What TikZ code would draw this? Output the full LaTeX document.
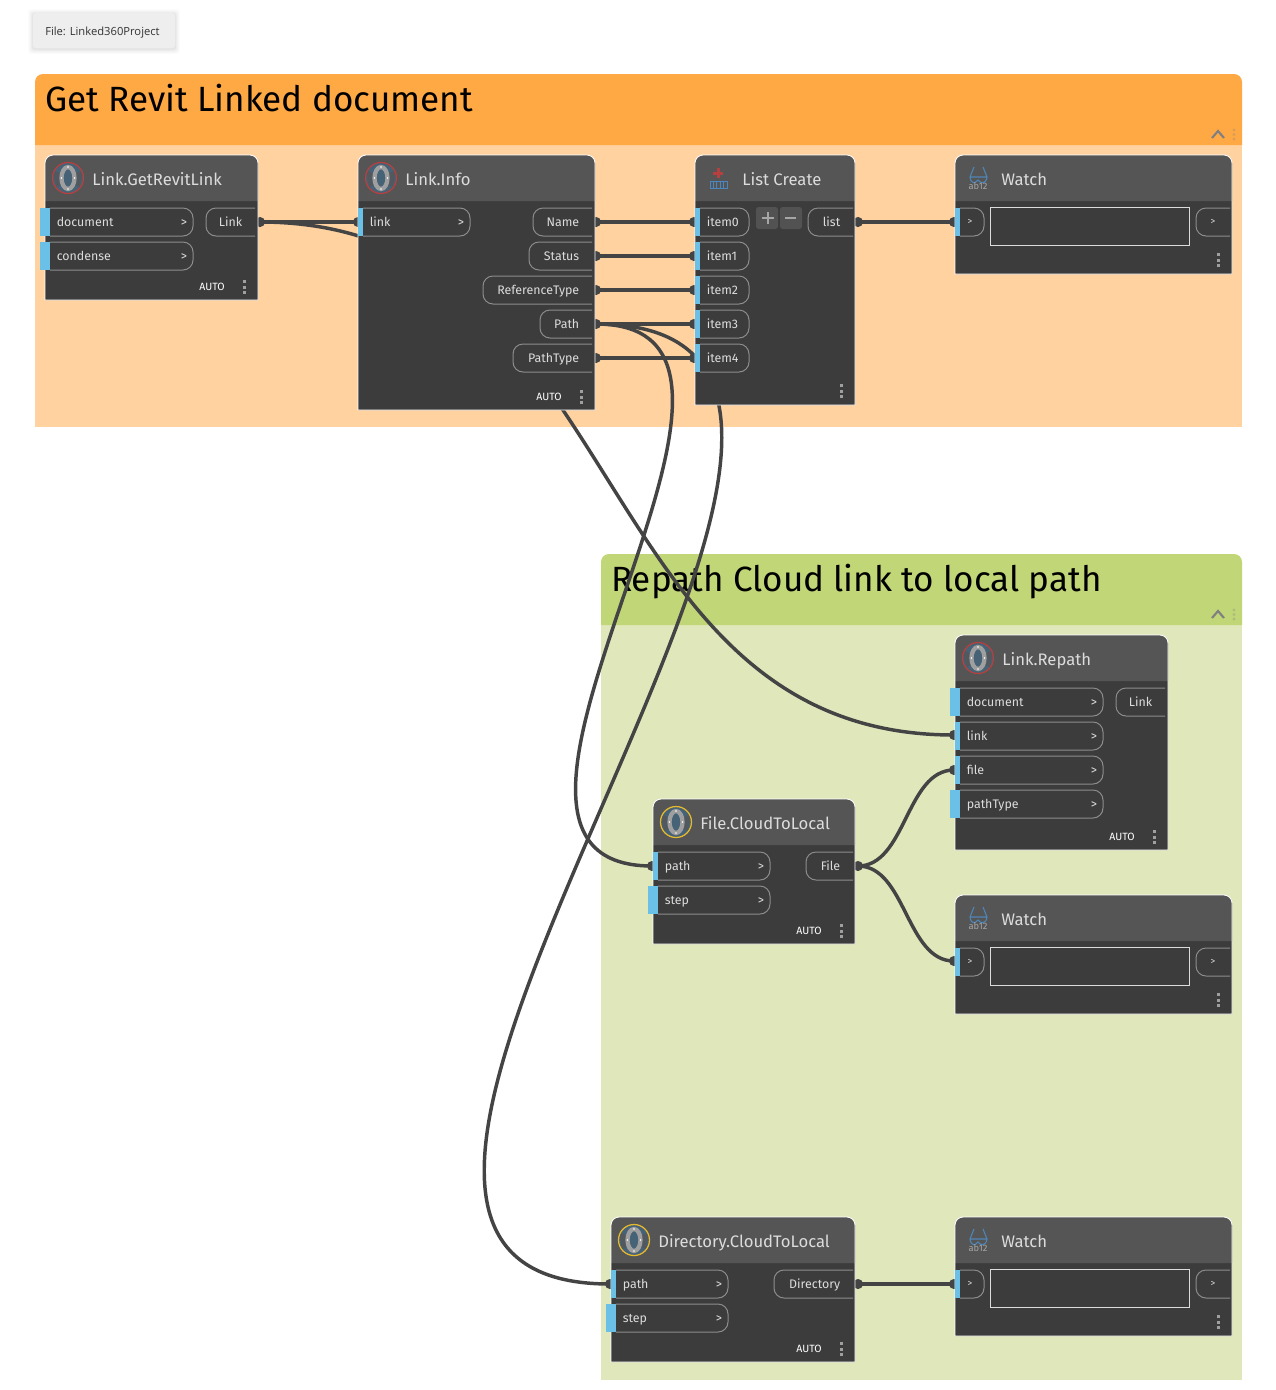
\documentclass[tikz,border=0pt]{standalone}
\usepackage{fontspec}
\setmainfont{Fira Sans}
\newfontfamily\notefont{Open Sans}
\pgfdeclarelayer{groups}
\pgfdeclarelayer{wires}
\pgfsetlayers{groups,wires,main}
\definecolor{nodebody}{HTML}{3C3C3C}
\definecolor{nodehead}{HTML}{555555}
\definecolor{wirec}{HTML}{444444}
\definecolor{portblue}{HTML}{6AC0E7}
\definecolor{pilledge}{HTML}{8C8C8C}
\definecolor{txt}{HTML}{DCDCDC}
\definecolor{orangehead}{HTML}{FFA945}
\definecolor{orangebody}{HTML}{FFD2A0}
\definecolor{greenhead}{HTML}{C1D677}
\definecolor{greenbody}{HTML}{E0E8BB}
\definecolor{iconblue}{HTML}{466276}
\definecolor{iconyellow}{HTML}{E5B82E}
\definecolor{iconred}{HTML}{B5403F}
\definecolor{glassblue}{HTML}{4F86B8}
\definecolor{listblue}{HTML}{4A86C0}
\definecolor{btnfill}{HTML}{525252}
\definecolor{notebg}{HTML}{EEEEEE}
\definecolor{notetext}{HTML}{333333}
\tikzset{
  wire/.style={draw=wirec,line width=2.6pt},
  portdot/.style={circle,fill=wirec,inner sep=0pt,minimum size=7.6pt},
  porttext/.style={text=txt,font=\fontsize{9.3}{11}\selectfont,inner sep=0pt},
  titletext/.style={text=txt,font=\fontsize{12.5}{15}\selectfont,inner sep=0pt,anchor=base west},
  grouptitle/.style={text=black,font=\fontsize{26.3}{30}\selectfont,inner sep=0pt,anchor=base west},
  pill/.style={draw=pilledge,line width=0.75pt,rounded corners=7.5pt},
  autotext/.style={text=white,font=\fontsize{7.9}{9}\selectfont,inner sep=0pt,anchor=east},
}
% id x1 y1 x2 y2 title titlex
\newcommand{\dnode}[7]{
  \fill[nodebody] (#2,#5) -- (#2,#3+10) [rounded corners=6pt] -- (#2,#3) -- (#4,#3) [sharp corners] -- (#4,#5) -- cycle;
  \fill[nodehead] (#2,#3+46) -- (#2,#3+10) [rounded corners=6pt] -- (#2,#3) -- (#4,#3) [sharp corners] -- (#4,#3+46) -- cycle;
  \draw[white,line width=0.65pt] (#2,#5) [rounded corners=6pt] -- (#2,#3) -- (#4,#3) [sharp corners] -- (#4,#5) -- cycle;
  \node[titletext] (#1) at (#7,#3+30) {#6};
}
% id barleft barright pillright y label
\newcommand{\inpill}[6]{
  \fill[portblue] (#2,#5-14) rectangle (#3,#5+14);
  \draw[pill] (#3,#5-14) -- (#4,#5-14) -- (#4,#5+14) -- (#3,#5+14);
  \node[porttext,anchor=base west] (#1) at (#3+6.5,#5+4) {#6};
  \node[porttext,anchor=base] (#1gt) at (#4-9,#5+4) {>};
}
% id pillleft pillright y label
\newcommand{\outpill}[5]{
  \draw[pill] (#3,#4-14) -- (#2,#4-14) -- (#2,#4+14) -- (#3,#4+14);
  \node[porttext,anchor=base east] (#1) at (#3-12.5,#4+4) {#5};
}
\newcommand{\wdot}[3]{\begin{pgfonlayer}{wires}\node[portdot] (#1) at (#2,#3) {};\end{pgfonlayer}}
\newcommand{\kebab}[2]{
  \fill[gray!75] (#1-1.5,#2-7) rectangle (#1+1.5,#2-4);
  \fill[gray!75] (#1-1.5,#2-1.5) rectangle (#1+1.5,#2+1.5);
  \fill[gray!75] (#1-1.5,#2+4) rectangle (#1+1.5,#2+7);
}
% x y ringcolor
\newcommand{\dsicon}[3]{
  \fill[iconblue] (#1,#2) circle[radius=15];
  \fill[nodehead!70!iconblue] (#1-15,#2-8) -- (#1-6,#2-4) -- (#1-6,#2+6) -- (#1-12,#2+9) -- cycle;
  \fill[nodehead!70!iconblue] (#1+15,#2-8) -- (#1+6,#2-4) -- (#1+6,#2+6) -- (#1+12,#2+9) -- cycle;
  \draw[#3,line width=0.95pt] (#1,#2) circle[radius=15.5];
  \draw[gray!75,line width=3.2pt] (#1,#2) ellipse[x radius=6.5,y radius=11];
  \fill[white] (#1,#2-11) circle[radius=0.9];
  \fill[white] (#1,#2+11) circle[radius=0.9];
  \fill[white] (#1-6.5,#2) circle[radius=0.9];
  \fill[white] (#1+6.5,#2) circle[radius=0.9];
}
\newcommand{\watchbits}[3]{% idprefix x1 y1
  \draw[glassblue,line width=0.8pt] (#2+15,#3+22) -- (#2+32,#3+22) (#2+15,#3+22) -- (#2+19,#3+12) (#2+32,#3+22) -- (#2+28,#3+12) (#2+15,#3+22) .. controls (#2+16,#3+29) and (#2+20,#3+29) .. (#2+23,#3+25) .. controls (#2+26,#3+29) and (#2+31,#3+29) .. (#2+32,#3+22);
  \node[text=gray!70,font=\fontsize{7}{8}\selectfont,inner sep=0pt] (#1ab) at (#2+23,#3+31) {ab12};
  \draw[txt,line width=0.75pt] (#2+35,#3+52) rectangle (#2+234.5,#3+90);
  \draw[pill] (#2+5,#3+53) -- (#2+29,#3+53) -- (#2+29,#3+81) -- (#2+5,#3+81);
  \fill[portblue] (#2,#3+53) rectangle (#2+5,#3+81);
  \draw[pill] (#2+275,#3+53) -- (#2+241,#3+53) -- (#2+241,#3+81) -- (#2+275,#3+81);
  \node[text=txt,font=\fontsize{7}{8}\selectfont,inner sep=0pt] (#1g) at (#2+15,#3+66.5) {>};
  \node[text=txt,font=\fontsize{7}{8}\selectfont,inner sep=0pt] (#1h) at (#2+258,#3+66.5) {>};
  \kebab{#2+263}{#3+105}
}
\begin{document}
\begin{tikzpicture}[x=0.75pt,y=-0.75pt]
\useasboundingbox (0,0) rectangle (1276,1390);
% file note
\foreach \s/\o in {5/0.012,4/0.016,3/0.02,2/0.025,1/0.03}{
  \fill[black,opacity=\o,rounded corners=2pt] (33-\s,13-\s+1) rectangle (175+\s,48+\s+1);
}
\fill[notebg,rounded corners=2pt] (33,13) rectangle (175,48);
\node[inner sep=0pt,anchor=base west,text=notetext] (filenote) at (45,35) {\notefont\fontsize{8.4}{10}\selectfont File: Linked360Project};
% groups
\begin{pgfonlayer}{groups}
\fill[white] (0,0) rectangle (1276,1390);
\fill[orangebody] (35,140) rectangle (1242,427);
\fill[orangehead] (35,145) -- (35,90) [rounded corners=6pt] -- (35,74) -- (1242,74) [sharp corners] -- (1242,145) -- cycle;
\node[grouptitle] (g1) at (45,111) {Get Revit Linked document};
\draw[gray,line width=1.6pt] (1212,138) -- (1218,131) -- (1224,138);
\fill[orangehead!70!gray] (1234,130) circle[radius=1.7] (1234,134.5) circle[radius=1.7] (1234,139) circle[radius=1.7];
\fill[greenbody] (601,620) rectangle (1242,1380);
\fill[greenhead] (601,625) -- (601,570) [rounded corners=6pt] -- (601,554) -- (1242,554) [sharp corners] -- (1242,625) -- cycle;
\node[grouptitle] (g2) at (611,591) {Repath Cloud link to local path};
\draw[gray,line width=1.6pt] (1212,618) -- (1218,611) -- (1224,618);
\fill[greenhead!70!gray] (1234,610) circle[radius=1.7] (1234,614.5) circle[radius=1.7] (1234,619) circle[radius=1.7];
\end{pgfonlayer}
% Link.GetRevitLink
\dnode{n1}{45}{155}{258}{300}{Link.GetRevitLink}{92}
\dsicon{68}{178}{iconred}
\inpill{n1a}{40}{50}{193}{222}{document}
\inpill{n1b}{40}{50}{193}{256}{condense}
\outpill{n1o}{206}{255}{222}{Link}
\node[autotext] (n1auto) at (225,287) {AUTO};
\kebab{244}{287}
\wdot{oLink}{260}{222}
% Link.Info
\dnode{n2}{358}{155}{595}{410}{Link.Info}{405}
\dsicon{381}{178}{iconred}
\inpill{n2a}{358}{363}{470}{222}{link}
\outpill{n2b}{533}{592}{222}{Name}
\outpill{n2c}{529}{592}{256}{Status}
\outpill{n2d}{483}{592}{290}{ReferenceType}
\outpill{n2e}{540}{592}{324}{Path}
\outpill{n2f}{513}{592}{358}{PathType}
\node[autotext] (n2auto) at (562,397) {AUTO};
\kebab{581}{397}
\wdot{iLink}{358}{222}
\wdot{oName}{596}{222}
\wdot{oStatus}{596}{256}
\wdot{oRef}{596}{290}
\wdot{oPath}{596}{324}
\wdot{oPT}{596}{358}
% List Create
\dnode{n3}{695}{155}{855}{405}{List Create}{742}
\fill[iconred] (716.5,168) rectangle (719.5,178);
\fill[iconred] (713,171.5) rectangle (723,174.5);
\draw[listblue,line width=0.7pt] (710,181) rectangle (727,188.5) (713.4,181) -- (713.4,188.5) (716.8,181) -- (716.8,188.5) (720.2,181) -- (720.2,188.5) (723.6,181) -- (723.6,188.5);
\foreach \k/\yy in {0/222,1/256,2/290,3/324,4/358}{
  \fill[portblue] (695,\yy-14) rectangle (700,\yy+14);
  \draw[pill] (700,\yy-14) -- (749,\yy-14) -- (749,\yy+14) -- (700,\yy+14);
  \node[porttext,anchor=base west] (item\k) at (706.5,\yy+4) {item\k};
}
\fill[btnfill,rounded corners=2pt] (756,207) rectangle (778,229);
\fill[btnfill,rounded corners=2pt] (780,207) rectangle (802,229);
\draw[gray!70,line width=1.2pt] (762,218) -- (774,218) (768,212) -- (768,224);
\draw[gray!70,line width=1.2pt] (785,218) -- (796,218);
\outpill{n3o}{808}{853}{222}{list}
\kebab{841}{391}
\wdot{iA}{694}{222}
\wdot{iB}{694}{256}
\wdot{iC}{694}{290}
\wdot{iD}{694}{324}
\wdot{iE}{694}{358}
\wdot{oList}{858}{222}
% Watch 1
\dnode{n4}{955}{155}{1232}{274}{Watch}{1001}
\watchbits{w1}{955}{155}
\wdot{iW1}{954}{222}
% Link.Repath
\dnode{n5}{955}{635}{1168}{850}{Link.Repath}{1002}
\dsicon{978}{658}{iconred}
\inpill{n5a}{950}{960}{1103}{702}{document}
\inpill{n5b}{955}{960}{1103}{736}{link}
\inpill{n5c}{955}{960}{1103}{770}{file}
\inpill{n5d}{950}{960}{1103}{804}{pathType}
\outpill{n5o}{1116}{1165}{702}{Link}
\node[autotext] (n5auto) at (1135,837) {AUTO};
\kebab{1154}{837}
\wdot{iRL}{954}{735}
\wdot{iRF}{954}{770}
% File.CloudToLocal
\dnode{n6}{653}{799}{855}{944}{File.CloudToLocal}{700}
\dsicon{676}{822}{iconyellow}
\inpill{n6a}{653}{658}{770}{866}{path}
\inpill{n6b}{648}{658}{770}{900}{step}
\outpill{n6o}{806}{853}{866}{File}
\node[autotext] (n6auto) at (822,931) {AUTO};
\kebab{841}{931}
\wdot{iFP}{652}{866}
\wdot{oFile}{858}{866}
% Watch 2
\dnode{n7}{955}{895}{1232}{1014}{Watch}{1001}
\watchbits{w2}{955}{895}
\wdot{iW2}{954}{961}
% Directory.CloudToLocal
\dnode{n8}{611}{1217}{855}{1362}{Directory.CloudToLocal}{658}
\dsicon{634}{1240}{iconyellow}
\inpill{n8a}{611}{616}{728}{1284}{path}
\inpill{n8b}{606}{616}{728}{1318}{step}
\outpill{n8o}{774}{853}{1284}{Directory}
\node[autotext] (n8auto) at (822,1349) {AUTO};
\kebab{841}{1349}
\wdot{iDP}{610}{1284}
\wdot{oDir}{858}{1284}
% Watch 3
\dnode{n9}{955}{1217}{1232}{1336}{Watch}{1001}
\watchbits{w3}{955}{1217}
\wdot{iW3}{954}{1284}
% wires
\begin{pgfonlayer}{wires}
\draw[wire] (oLink.center) -- (iLink.center);
\draw[wire] (oLink.center) .. controls +(372,0) and +(-372,0) .. (iRL.center);
\draw[wire] (oName.center) -- (iA.center);
\draw[wire] (oStatus.center) -- (iB.center);
\draw[wire] (oRef.center) -- (iC.center);
\draw[wire] (oPath.center) -- (iD.center);
\draw[wire] (oPT.center) -- (iE.center);
\draw[wire] (oPath.center) .. controls +(430,0) and +(-430,0) .. (iDP.center);
\draw[wire] (oPath.center) .. controls +(240,0) and +(-240,0) .. (iFP.center);
\draw[wire] (oList.center) -- (iW1.center);
\draw[wire] (oFile.center) .. controls +(48,0) and +(-48,0) .. (iRF.center);
\draw[wire] (oFile.center) .. controls +(48,0) and +(-48,0) .. (iW2.center);
\draw[wire] (oDir.center) -- (iW3.center);
\end{pgfonlayer}
\end{tikzpicture}
\end{document}
